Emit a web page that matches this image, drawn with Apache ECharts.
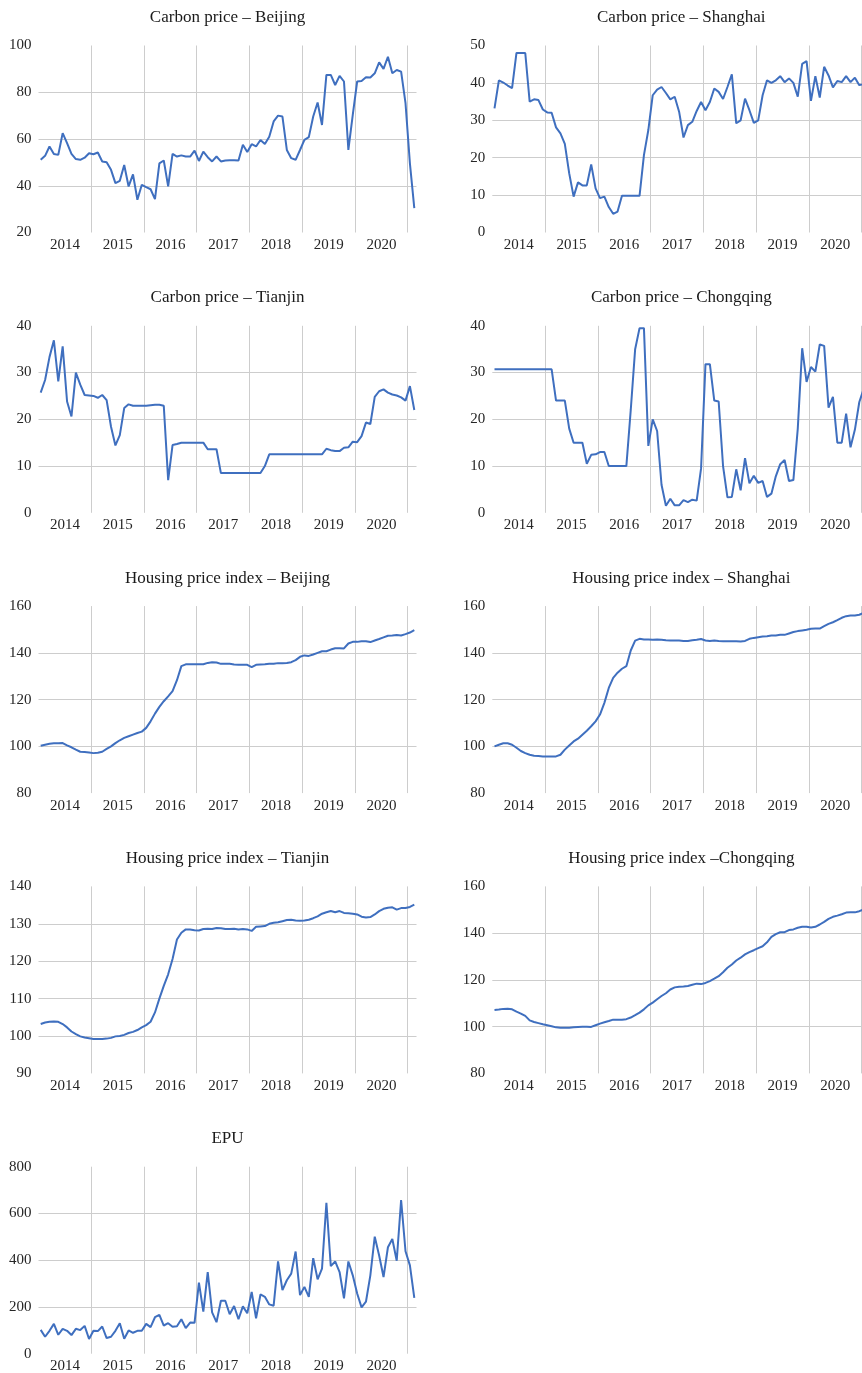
<!DOCTYPE html>
<html>
<head>
<meta charset="utf-8">
<script src="https://cdn.jsdelivr.net/npm/echarts@6.0.0/dist/echarts.min.js"></script>
<style>
  html, body { margin: 0; padding: 0; background: #fff; }
  #main { width: 862px; height: 1373px; }
</style>
</head>
<body>
<div id="main"></div>
<script>
// monthly observations, Jan 2014 .. Feb 2021
const months = [];
for (let i = 0; i < 86; i++) {
  months.push((2014 + Math.floor(i / 12)) + '-' + String(i % 12 + 1).padStart(2, '0'));
}

const carbonBeijing = [
  51.1, 52.8, 56.8, 53.6, 53.2, 62.5, 58.2, 53.6, 51.4, 51.1, 52, 53.9,
  53.5, 54.2, 50.4, 50.1, 46.8, 41.1, 42.1, 48.9, 39.7, 44.9, 34, 40.4,
  39.4, 38.5, 34.3, 49.6, 50.8, 39.7, 53.6, 52.5, 53, 52.5, 52.5, 55,
  50.6, 54.6, 52.2, 50.4, 52.5, 50.4, 50.8, 50.9, 50.9, 50.8, 57.5, 54.4,
  57.8, 56.8, 59.6, 57.9, 61, 67.5, 70, 69.6, 55.3, 51.8, 51.1, 55.3,
  59.6, 60.8, 69.6, 75.6, 66, 87.4, 87.4, 83.1, 87, 84.6, 55.3, 70.3,
  84.6, 84.8, 86.4, 86.3, 88.1, 92.8, 90, 95.2, 88.1, 89.5, 88.8, 75.3,
  49.6, 30.4
];
const carbonShanghai = [
  33.2, 40.7, 40.1, 39.3, 38.6, 48, 48, 48, 35, 35.6, 35.4, 32.9,
  32.1, 32, 28.1, 26.5, 23.7, 15.8, 9.6, 13.4, 12.6, 12.6, 18.2, 11.8,
  9.2, 9.6, 6.8, 5, 5.6, 9.8, 9.8, 9.8, 9.8, 9.8, 20.7, 27.4,
  36.7, 38.2, 38.9, 37.3, 35.6, 36.3, 32.3, 25.4, 28.7, 29.6, 32.5, 34.9,
  32.7, 34.9, 38.5, 37.6, 35.7, 38.9, 42.3, 29.2, 30, 35.8, 32.7, 29.3,
  30, 36.7, 40.7, 40, 40.7, 41.8, 40.2, 41.2, 40, 36.3, 45.1, 45.8,
  35.2, 41.8, 36.1, 44.3, 42, 38.8, 40.5, 40.2, 41.8, 40.2, 41.4, 39.4,
  39.7
];
const carbonTianjin = [
  25.7, 28.4, 33.3, 36.9, 28.1, 35.6, 23.8, 20.6, 30, 27.4, 25.2, 25.1,
  25, 24.6, 25.2, 24.1, 18.4, 14.4, 16.6, 22.4, 23.2, 22.9, 22.9, 22.9,
  22.9, 23, 23.1, 23.1, 22.9, 7, 14.5, 14.7, 15, 15, 15, 15,
  15, 15, 13.6, 13.6, 13.6, 8.5, 8.5, 8.5, 8.5, 8.5, 8.5, 8.5,
  8.5, 8.5, 8.5, 10, 12.5, 12.5, 12.5, 12.5, 12.5, 12.5, 12.5, 12.5,
  12.5, 12.5, 12.5, 12.5, 12.5, 13.7, 13.4, 13.2, 13.2, 13.9, 14, 15.2,
  15.1, 16.4, 19.3, 19, 24.8, 26, 26.4, 25.7, 25.3, 25.1, 24.7, 24,
  27.1, 22
];
const carbonChongqing = [
  30.7, 30.7, 30.7, 30.7, 30.7, 30.7, 30.7, 30.7, 30.7, 30.7, 30.7, 30.7,
  30.7, 30.7, 24, 24, 24, 18, 15, 15, 15, 10.5, 12.4, 12.5,
  13, 13, 10, 10, 10, 10, 10, 22, 35, 39.5, 39.5, 14.3,
  20, 17.5, 6, 1.5, 3, 1.6, 1.6, 2.7, 2.3, 2.8, 2.6, 9.5,
  31.8, 31.8, 24, 23.8, 10, 3.3, 3.4, 9.3, 4.8, 11.7, 6.3, 7.9,
  6.4, 6.8, 3.4, 4.1, 7.8, 10.4, 11.3, 6.8, 7, 18, 35.2, 28,
  31.2, 30.2, 36, 35.7, 22.5, 24.8, 15, 15, 21.2, 14, 17.8, 23.7,
  26.5
];
const housingBeijing = [
  100.3, 100.7, 101.1, 101.3, 101.3, 101.4, 100.4, 99.6, 98.6, 97.7, 97.6, 97.4,
  97.1, 97.3, 97.7, 98.9, 100, 101.4, 102.6, 103.6, 104.3, 105, 105.7, 106.3,
  107.9, 110.7, 114, 116.9, 119.3, 121.4, 123.6, 128.3, 134.3, 135.1, 135.1, 135.1,
  135.1, 135.1, 135.7, 136, 135.9, 135.3, 135.3, 135.3, 135, 134.9, 134.9, 134.9,
  133.9, 134.9, 135, 135.1, 135.3, 135.3, 135.6, 135.6, 135.7, 136, 136.9, 138.3,
  138.9, 138.7, 139.3, 140, 140.7, 140.7, 141.4, 142, 142, 141.9, 144, 144.7,
  144.7, 145, 145, 144.6, 145.3, 145.9, 146.6, 147.3, 147.4, 147.6, 147.4, 148,
  148.7, 149.7
];
const housingShanghai = [
  100, 100.7, 101.3, 101.3, 100.7, 99.4, 98, 97.1, 96.4, 96, 95.9, 95.7,
  95.7, 95.7, 95.7, 96.4, 98.6, 100.4, 102.1, 103.3, 105, 106.7, 108.6, 110.7,
  113.6, 118.6, 125, 129.3, 131.5, 133.2, 134.3, 141, 145.2, 146, 145.7, 145.7,
  145.6, 145.7, 145.6, 145.4, 145.3, 145.3, 145.3, 145.1, 145.1, 145.4, 145.6, 145.9,
  145.3, 145.1, 145.3, 145.1, 145, 145, 145, 145, 144.9, 145.1, 146, 146.4,
  146.7, 147, 147.1, 147.4, 147.4, 147.7, 147.7, 148.3, 148.9, 149.3, 149.6, 149.9,
  150.3, 150.4, 150.4, 151.4, 152.4, 153.1, 154, 155, 155.7, 156, 156, 156.3,
  157.1
];
const housingTianjin = [
  103.2, 103.6, 103.8, 103.9, 103.8, 103.2, 102.3, 101.2, 100.5, 99.9, 99.6, 99.4,
  99.2, 99.2, 99.2, 99.3, 99.5, 99.9, 100, 100.3, 100.8, 101.1, 101.6, 102.3,
  102.9, 103.8, 106.3, 110, 113.4, 116.5, 120.6, 125.8, 127.6, 128.5, 128.5, 128.3,
  128.2, 128.6, 128.7, 128.6, 128.9, 128.8, 128.6, 128.6, 128.7, 128.5, 128.6, 128.5,
  128.1, 129.2, 129.3, 129.4, 130, 130.3, 130.4, 130.7, 131, 131.1, 130.9, 130.8,
  130.9, 131.1, 131.5, 132, 132.7, 133.1, 133.4, 133.1, 133.4, 132.9, 132.8, 132.7,
  132.5, 131.9, 131.7, 131.8, 132.5, 133.4, 134, 134.3, 134.4, 133.8, 134.2, 134.2,
  134.5, 135.1
];
const housingChongqing = [
  107.1, 107.3, 107.6, 107.7, 107.4, 106.4, 105.6, 104.6, 102.7, 102, 101.5, 101,
  100.6, 100.2, 99.7, 99.5, 99.5, 99.5, 99.7, 99.9, 100, 100, 99.9, 100.6,
  101.3, 101.9, 102.4, 103, 103, 103, 103.2, 103.9, 104.9, 106, 107.4, 109.1,
  110.3, 111.7, 113.1, 114.3, 115.9, 116.8, 117.1, 117.2, 117.4, 117.9, 118.4, 118.2,
  118.7, 119.5, 120.5, 121.6, 123.3, 125.2, 126.6, 128.3, 129.5, 130.9, 131.9, 132.7,
  133.6, 134.4, 136.1, 138.4, 139.6, 140.4, 140.4, 141.3, 141.6, 142.3, 142.7, 142.7,
  142.4, 142.7, 143.7, 144.8, 146.1, 147, 147.5, 148.1, 148.8, 148.9, 148.9, 149.4,
  150.1
];
const epu = [
  102, 72.6, 98, 127.7, 81, 106.5, 98, 79.7, 106.5, 101, 119, 62.7,
  98, 96.6, 116.4, 67, 72.6, 98, 130.5, 64, 99.4, 89.5, 98, 98,
  127.7, 113.6, 156, 166, 120.6, 130.5, 115, 117.8, 147.5, 109.3, 133.3, 132,
  304, 180, 349.4, 177, 134.7, 226.6, 226.6, 168.6, 204, 147.5, 202.5, 173,
  264.7, 151.7, 253.4, 243.5, 211, 205.4, 394.6, 271.8, 314.2, 342.4, 437, 250.6,
  285.9, 243.5, 408.8, 318.4, 363.6, 646, 374.9, 394.6, 349.4, 236.4, 394.6, 335.3,
  257.6, 198.3, 222.3, 335.3, 500.6, 420, 328.2, 455.4, 490.7, 397.5, 657.5, 438.4,
  377.7, 239.3
];

const panels = [
  { title: 'Carbon price – Beijing', data: carbonBeijing, min: 20, max: 100, step: 20 },
  { title: 'Carbon price – Shanghai', data: carbonShanghai, min: 0, max: 50, step: 10 },
  { title: 'Carbon price – Tianjin', data: carbonTianjin, min: 0, max: 40, step: 10 },
  { title: 'Carbon price – Chongqing', data: carbonChongqing, min: 0, max: 40, step: 10 },
  { title: 'Housing price index – Beijing', data: housingBeijing, min: 80, max: 160, step: 20 },
  { title: 'Housing price index – Shanghai', data: housingShanghai, min: 80, max: 160, step: 20 },
  { title: 'Housing price index – Tianjin', data: housingTianjin, min: 90, max: 140, step: 10 },
  { title: 'Housing price index –Chongqing', data: housingChongqing, min: 80, max: 160, step: 20 },
  { title: 'EPU', data: epu, min: 0, max: 800, step: 200 }
];

const serif = '"Liberation Serif", "Times New Roman", serif';
const colLeft = [38.5, 492.3];
const plotW = 378, plotH = 187, rowStep = 280.3;
const gridColor = '#cdcdcd';

const chart = echarts.init(document.getElementById('main'));

const option = {
  animation: false,
  backgroundColor: '#fff',
  title: panels.map((p, i) => ({
    text: p.title,
    left: colLeft[i % 2] + plotW / 2,
    top: 17.5 + rowStep * Math.floor(i / 2),
    textAlign: 'center',
    textVerticalAlign: 'middle',
    padding: 0,
    textStyle: { fontFamily: serif, fontSize: 17, fontWeight: 'normal', color: '#1a1a1a' }
  })),
  grid: panels.map((p, i) => ({
    left: colLeft[i % 2],
    top: 45.5 + rowStep * Math.floor(i / 2),
    width: plotW,
    height: plotH,
    containLabel: false,
    outerBoundsMode: 'none'
  })),
  xAxis: panels.map((p, i) => ({
    type: 'category',
    gridIndex: i,
    data: months,
    boundaryGap: true,
    axisLine: { show: false },
    axisTick: { show: false },
    axisLabel: {
      interval: idx => idx % 12 === 6,
      formatter: v => v.slice(0, 4),
      margin: 5,
      padding: [0, 4, 0, 0],
      fontFamily: serif,
      fontSize: 15,
      color: '#262626'
    },
    splitLine: {
      show: true,
      interval: idx => idx > 0 && idx % 12 === 0,
      showMaxLine: false,
      lineStyle: { color: gridColor, width: 1 }
    }
  })),
  yAxis: panels.map((p, i) => ({
    type: 'value',
    gridIndex: i,
    min: p.min,
    max: p.max,
    interval: p.step,
    axisLine: { show: false },
    axisTick: { show: false },
    axisLabel: { margin: 7, fontFamily: serif, fontSize: 15, color: '#262626' },
    splitLine: {
      show: true,
      showMinLine: false,
      showMaxLine: false,
      lineStyle: { color: gridColor, width: 1 }
    }
  })),
  series: panels.map((p, i) => ({
    type: 'line',
    name: p.title,
    xAxisIndex: i,
    yAxisIndex: i,
    data: p.data,
    symbol: 'none',
    lineStyle: { color: '#3f6fbf', width: 2 }
  }))
};

chart.setOption(option);
</script>
</body>
</html>
